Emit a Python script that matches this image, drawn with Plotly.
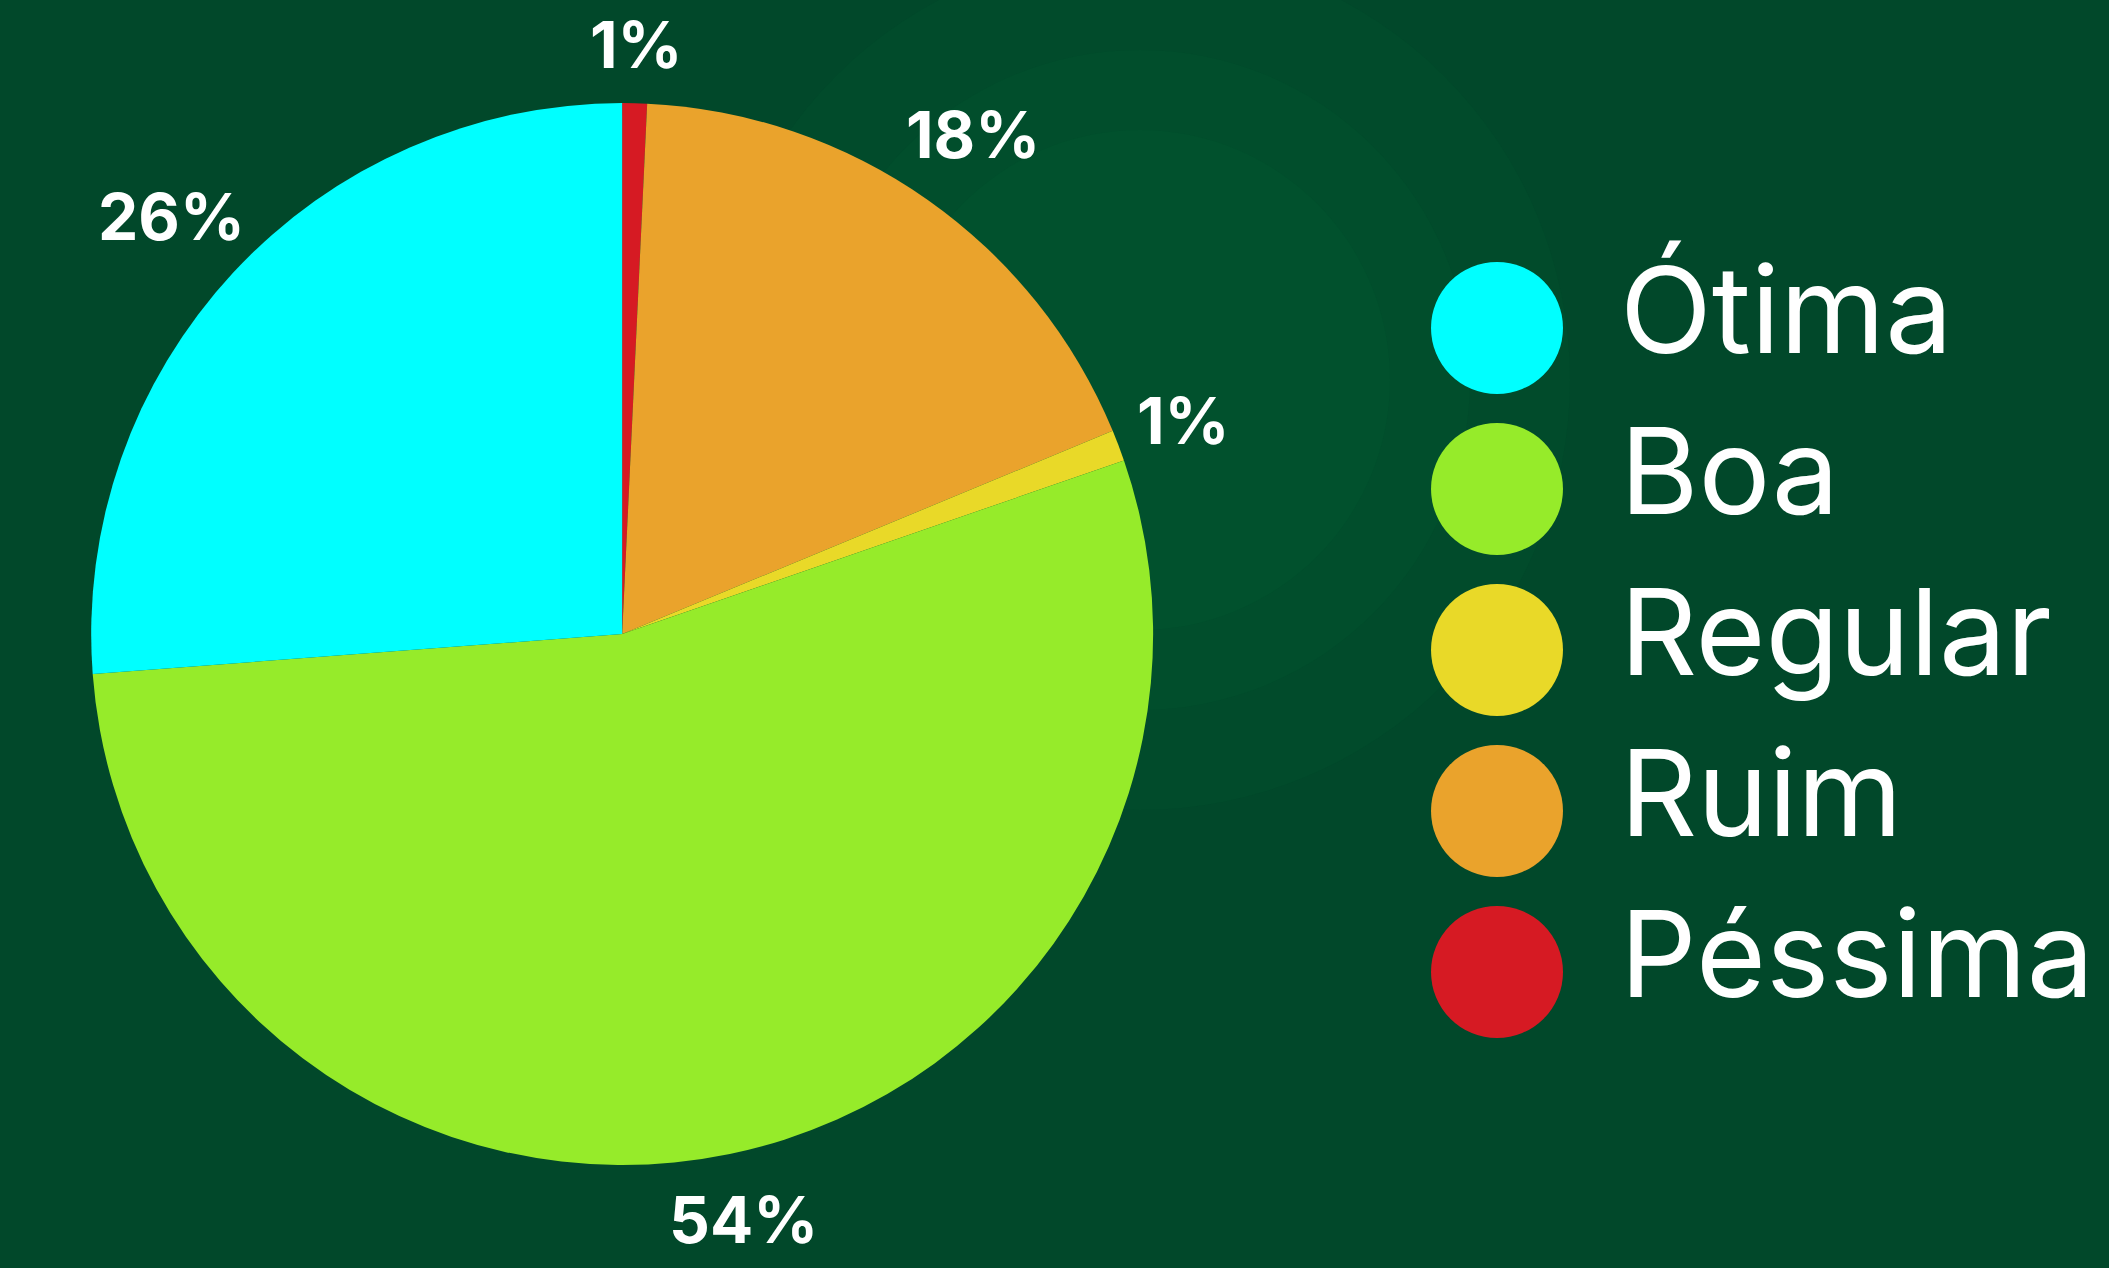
import math
import plotly.graph_objects as go

categories = ["Ótima", "Boa", "Regular", "Ruim", "Péssima"]
values = [26.2, 54.1, 0.95, 18.0, 0.75]
colors = ["#00FFFF", "#96EB2A", "#E9D928", "#EAA32C", "#D61A23"]

W, H = 2109, 1268
BG = "#01482A"

pie_x = [0.02, 0.57]
pie_y = [0.0812, 0.9187]

# slices drawn clockwise from 12 o'clock in reverse category order
pie_labels = categories[::-1]
pie_values = values[::-1]
pie_colors = colors[::-1]

fig = go.Figure()
fig.add_trace(go.Pie(
    labels=pie_labels,
    values=pie_values,
    marker=dict(colors=pie_colors, line=dict(width=0)),
    sort=False,
    direction="clockwise",
    rotation=0,
    textinfo="none",
    hoverinfo="label+percent",
    showlegend=False,
    domain=dict(x=pie_x, y=pie_y),
))

# percentage labels placed just outside the pie, derived from the data
cx = (pie_x[0] + pie_x[1]) / 2 * W
cy = (pie_y[0] + pie_y[1]) / 2 * H
R = min((pie_x[1] - pie_x[0]) * W, (pie_y[1] - pie_y[0]) * H) / 2
total = sum(pie_values)
cum = 0.0
annotations = []
label_size = 64
for v in pie_values:
    mid = (cum + v / 2) / total
    cum += v
    phi = 2 * math.pi * mid
    dx, dy = math.sin(phi), math.cos(phi)
    txt = f"{round(100 * v / total)}%"
    hw = 0.36 * label_size * len(txt) / 1.5
    hh = 0.4 * label_size
    d = R + 32 + hw * abs(dx) + hh * abs(dy)
    annotations.append(dict(
        x=(cx + dx * d) / W, y=(cy + dy * d) / H,
        xref="paper", yref="paper", text=f"<b>{txt}</b>", showarrow=False,
        xanchor="center", yanchor="middle",
        font=dict(family="Inter", size=label_size, color="white", weight=900),
    ))

shapes = []
# faint background rings
for rr, col in [(430, "#014B2B"), (330, "#014E2C"), (250, "#01512D")]:
    shapes.append(dict(type="circle", xref="paper", yref="paper", layer="below",
                       x0=(1140 - rr) / W, x1=(1140 + rr) / W,
                       y0=1 - (380 + rr) / H, y1=1 - (380 - rr) / H,
                       fillcolor=col, line=dict(width=0)))

# custom legend with circular swatches
leg_cx, leg_cy0, leg_step, leg_r = 1497, 328, 161, 66
for i, (name, col) in enumerate(zip(categories, colors)):
    yc = leg_cy0 + i * leg_step
    shapes.append(dict(type="circle", xref="paper", yref="paper",
                       x0=(leg_cx - leg_r) / W, x1=(leg_cx + leg_r) / W,
                       y0=1 - (yc + leg_r) / H, y1=1 - (yc - leg_r) / H,
                       fillcolor=col, line=dict(width=0)))
    annotations.append(dict(
        x=1618 / W, y=1 - (yc - 19) / H, xref="paper", yref="paper",
        text=name, showarrow=False, xanchor="left", yanchor="middle",
        font=dict(family="Inter", size=120, color="white"),
    ))

fig.update_layout(
    width=W, height=H,
    margin=dict(l=0, r=0, t=0, b=0),
    paper_bgcolor=BG, plot_bgcolor=BG,
    annotations=annotations, shapes=shapes,
)

fig.write_html("out.html",
               config={"displayModeBar": False},
               post_script="document.body.style.margin='0';document.body.style.overflow='hidden';")
